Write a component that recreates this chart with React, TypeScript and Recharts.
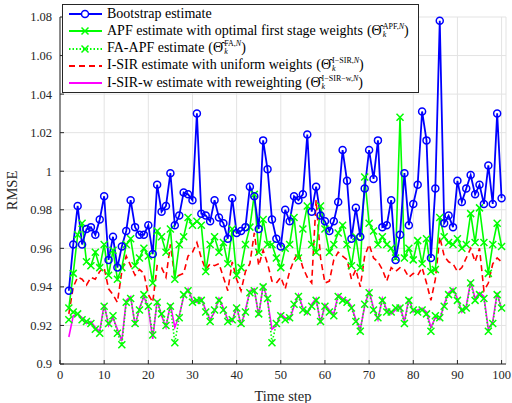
import React from "react";
import { LineChart, Line, XAxis, YAxis, CartesianGrid } from "recharts";

// time steps 2..100
const timeSteps = [
  2, 3, 4, 5, 6, 7, 8, 9, 10, 11, 12, 13, 14, 15, 16, 17, 18, 19, 20, 21,
  22, 23, 24, 25, 26, 27, 28, 29, 30, 31, 32, 33, 34, 35, 36, 37, 38, 39, 40, 41,
  42, 43, 44, 45, 46, 47, 48, 49, 50, 51, 52, 53, 54, 55, 56, 57, 58, 59, 60, 61,
  62, 63, 64, 65, 66, 67, 68, 69, 70, 71, 72, 73, 74, 75, 76, 77, 78, 79, 80, 81,
  82, 83, 84, 85, 86, 87, 88, 89, 90, 91, 92, 93, 94, 95, 96, 97, 98, 99, 100,
];

const bootstrap = [
  0.938, 0.962, 0.982, 0.962, 0.970, 0.971, 0.967, 0.975, 0.987, 0.954, 0.966, 0.950, 0.961, 0.969, 0.985, 0.971, 0.967, 0.967, 0.972, 0.957,
  0.993, 0.979, 0.982, 0.999, 0.972, 0.977, 0.989, 0.988, 0.985, 1.030, 0.978, 0.977, 0.974, 0.985, 0.976, 0.973, 0.965, 0.986, 0.968, 0.969,
  0.971, 0.992, 0.987, 0.970, 1.016, 1.001, 0.975, 0.965, 0.961, 0.980, 0.974, 0.987, 0.985, 0.988, 1.019, 0.979, 0.992, 0.977, 0.974, 0.969,
  0.974, 0.984, 1.011, 0.995, 0.965, 0.981, 0.966, 0.991, 1.011, 0.996, 1.016, 0.971, 0.972, 0.985, 0.954, 0.967, 0.999, 0.972, 0.983, 0.993,
  1.031, 1.016, 0.955, 0.991, 1.078, 0.973, 0.977, 0.971, 0.995, 0.984, 0.991, 0.998, 0.988, 0.993, 0.983, 1.003, 0.983, 1.030, 0.986,
];

const apf = [
  0.929, 0.947, 0.967, 0.973, 0.953, 0.951, 0.958, 0.950, 0.962, 0.946, 0.959, 0.944, 0.950, 0.962, 0.965, 0.951, 0.955, 0.960, 0.956, 0.942,
  0.969, 0.966, 0.958, 0.970, 0.944, 0.962, 0.966, 0.976, 0.972, 0.974, 0.972, 0.948, 0.962, 0.966, 0.958, 0.963, 0.952, 0.970, 0.946, 0.950,
  0.962, 0.971, 0.988, 0.958, 0.975, 0.962, 0.962, 0.955, 0.950, 0.960, 0.962, 0.976, 0.955, 0.970, 0.982, 0.962, 0.958, 0.982, 0.970, 0.958,
  0.962, 0.968, 0.972, 0.962, 0.951, 0.966, 0.950, 0.997, 0.973, 0.969, 0.962, 0.966, 0.962, 0.960, 0.955, 1.028, 0.955, 0.960, 0.954, 0.964,
  0.952, 0.965, 0.948, 0.949, 0.976, 0.966, 0.963, 0.962, 0.965, 0.960, 0.962, 0.978, 0.963, 0.981, 0.963, 0.947, 0.962, 0.973, 0.961,
];

const faApf = [
  0.923, 0.927, 0.926, 0.923, 0.922, 0.921, 0.918, 0.916, 0.930, 0.921, 0.925, 0.916, 0.910, 0.932, 0.934, 0.921, 0.928, 0.936, 0.930, 0.915,
  0.932, 0.926, 0.920, 0.930, 0.911, 0.924, 0.936, 0.938, 0.932, 0.933, 0.933, 0.927, 0.922, 0.928, 0.933, 0.928, 0.922, 0.923, 0.929, 0.921,
  0.927, 0.937, 0.938, 0.926, 0.940, 0.934, 0.911, 0.921, 0.925, 0.923, 0.924, 0.931, 0.935, 0.928, 0.927, 0.930, 0.933, 0.922, 0.930, 0.927,
  0.925, 0.935, 0.933, 0.932, 0.929, 0.922, 0.917, 0.931, 0.937, 0.928, 0.924, 0.933, 0.927, 0.927, 0.929, 0.929, 0.921, 0.933, 0.928, 0.927,
  0.928, 0.926, 0.917, 0.925, 0.924, 0.930, 0.936, 0.938, 0.933, 0.928, 0.929, 0.942, 0.933, 0.936, 0.934, 0.917, 0.921, 0.936, 0.929,
];

const isir = [
  0.926, 0.940, 0.945, 0.944, 0.941, 0.945, 0.944, 0.948, 0.950, 0.939, 0.936, 0.932, 0.948, 0.956, 0.951, 0.946, 0.949, 0.947, 0.936, 0.932,
  0.951, 0.950, 0.945, 0.962, 0.945, 0.946, 0.947, 0.956, 0.958, 0.963, 0.955, 0.949, 0.952, 0.951, 0.952, 0.945, 0.938, 0.953, 0.944, 0.938,
  0.948, 0.952, 0.968, 0.951, 0.959, 0.952, 0.943, 0.942, 0.945, 0.939, 0.948, 0.954, 0.958, 0.950, 0.945, 0.942, 0.985, 0.955, 0.942, 0.943,
  0.954, 0.958, 0.956, 0.954, 0.944, 0.949, 0.940, 0.956, 0.962, 0.955, 0.953, 0.949, 0.943, 0.950, 0.948, 0.950, 0.949, 0.945, 0.947, 0.946,
  0.950, 0.942, 0.933, 0.944, 0.966, 0.956, 0.953, 0.952, 0.948, 0.950, 0.955, 0.960, 0.953, 0.960, 0.938, 0.942, 0.952, 0.955, 0.953,
];

const isirW = [
  0.914, 0.925, 0.926, 0.924, 0.921, 0.922, 0.919, 0.917, 0.931, 0.920, 0.924, 0.918, 0.912, 0.933, 0.935, 0.920, 0.929, 0.935, 0.929, 0.913,
  0.933, 0.925, 0.919, 0.931, 0.919, 0.925, 0.935, 0.939, 0.933, 0.932, 0.934, 0.928, 0.923, 0.927, 0.934, 0.929, 0.923, 0.922, 0.930, 0.920,
  0.928, 0.938, 0.939, 0.925, 0.941, 0.933, 0.918, 0.920, 0.926, 0.924, 0.923, 0.930, 0.936, 0.929, 0.926, 0.931, 0.934, 0.921, 0.931, 0.928,
  0.926, 0.936, 0.934, 0.933, 0.930, 0.923, 0.918, 0.930, 0.938, 0.929, 0.923, 0.934, 0.928, 0.926, 0.928, 0.930, 0.922, 0.934, 0.927, 0.928,
  0.929, 0.927, 0.919, 0.924, 0.923, 0.931, 0.937, 0.939, 0.934, 0.927, 0.930, 0.943, 0.934, 0.937, 0.935, 0.918, 0.922, 0.937, 0.928,
];

const xTicks = [0, 10, 20, 30, 40, 50, 60, 70, 80, 90, 100];
const yTicks = [0.9, 0.92, 0.94, 0.96, 0.98, 1, 1.02, 1.04, 1.06, 1.08];

const data = timeSteps.map((t, i) => ({
  t,
  boot: bootstrap[i],
  apf: apf[i],
  fa: faApf[i],
  isir: isir[i],
  isirW: isirW[i],
}));

const FONT = "'Liberation Serif', 'Times New Roman', serif";
const GREEN = "#00ff00";

// MATLAB style 'x' marker
const XMark = (props: any) => {
  const { cx, cy, index } = props;
  if (cx == null || cy == null) return <g key={index} />;
  const s = 3.5;
  return (
    <path
      key={index}
      d={`M${cx - s},${cy - s}L${cx + s},${cy + s}M${cx - s},${cy + s}L${cx + s},${cy - s}`}
      stroke={GREEN}
      strokeWidth={1.5}
      fill="none"
    />
  );
};

// (Θ̂_k^{sup}) notation
const Est = ({ sup }: { sup: React.ReactNode }) => (
  <span style={{ display: "inline-flex", alignItems: "center", marginLeft: 4 }}>
    <span>(</span>
    <span>Θ̂</span>
    <span
      style={{
        display: "inline-flex",
        flexDirection: "column",
        fontSize: 8,
        lineHeight: "8px",
        marginLeft: 1,
      }}
    >
      <span>{sup}</span>
      <span style={{ fontStyle: "italic" }}>k</span>
    </span>
    <span>)</span>
  </span>
);

const legendRows = [
  { label: "Bootstrap estimate", color: "#0000ff", dash: undefined, marker: "o", sup: null },
  {
    label: "APF estimate with optimal first stage weights",
    color: GREEN,
    dash: undefined,
    marker: "x",
    sup: <>APF,<i>N</i></>,
  },
  { label: "FA-APF estimate", color: GREEN, dash: "1.5 2", marker: "x", sup: <>FA,<i>N</i></> },
  {
    label: "I-SIR estimate with uniform weights",
    color: "#ff0000",
    dash: "6 4",
    marker: null,
    sup: <>I−SIR,<i>N</i></>,
  },
  {
    label: "I-SIR-w estimate with reweighting",
    color: "#ff00ff",
    dash: undefined,
    marker: null,
    sup: <>I−SIR−w,<i>N</i></>,
  },
];

const LegendBox = () => (
  <div
    style={{
      position: "absolute",
      left: 62,
      top: 4,
      width: 355,
      height: 87,
      background: "#fff",
      border: "1px solid #262626",
      fontFamily: FONT,
      fontSize: 14,
      color: "#000",
    }}
  >
    {legendRows.map((r, i) => (
      <div
        key={r.label}
        style={{
          position: "absolute",
          left: 0,
          top: i * 17.3,
          height: 17,
          display: "flex",
          alignItems: "center",
          whiteSpace: "nowrap",
        }}
      >
        <svg width={40} height={17} style={{ marginLeft: 4 }}>
          <line x1={2} y1={9} x2={35} y2={9} stroke={r.color} strokeWidth={2} strokeDasharray={r.dash} />
          {r.marker === "o" && <circle cx={18} cy={9} r={3.5} stroke={r.color} strokeWidth={1.5} fill="#fff" />}
          {r.marker === "x" && (
            <path d="M14.5,5.5L21.5,12.5M14.5,12.5L21.5,5.5" stroke={r.color} strokeWidth={1.5} />
          )}
        </svg>
        <span>{r.label}</span>
        {r.sup && <Est sup={r.sup} />}
      </div>
    ))}
  </div>
);

export default function App() {
  const tickStyle = { fontSize: 12.5, fill: "#262626", fontFamily: FONT };
  return (
    <div style={{ position: "absolute", left: 0, top: 0, width: 512, height: 403, background: "#fff" }}>
      <LineChart width={512} height={403} data={data} margin={{ top: 17, right: 6, bottom: 0, left: 0 }}>
        <CartesianGrid stroke="#e3e3e3" strokeWidth={1} />
        <XAxis
          dataKey="t"
          type="number"
          domain={[0, 101]}
          ticks={xTicks}
          interval={0}
          height={39}
          tick={tickStyle}
          tickSize={-4}
          tickMargin={10}
          stroke="#262626"
          label={{ value: "Time step", position: "insideBottom", offset: 2, style: { fontSize: 14.5, fill: "#262626", fontFamily: FONT } }}
        />
        <XAxis xAxisId="top" dataKey="t" type="number" domain={[0, 101]} orientation="top" height={0} tick={false} tickLine={false} stroke="#262626" />
        <YAxis
          type="number"
          domain={[0.9, 1.08]}
          ticks={yTicks}
          interval={0}
          width={60}
          tick={tickStyle}
          tickSize={-4}
          tickMargin={12}
          stroke="#262626"
          label={{ value: "RMSE", angle: -90, position: "insideLeft", offset: 12, style: { fontSize: 14.5, fill: "#262626", fontFamily: FONT, textAnchor: "middle" } }}
        />
        <YAxis yAxisId="right" type="number" domain={[0.9, 1.08]} orientation="right" width={0} tick={false} tickLine={false} stroke="#262626" />
        <Line dataKey="isirW" stroke="#ff00ff" strokeWidth={1.6} dot={false} isAnimationActive={false} />
        <Line dataKey="fa" stroke={GREEN} strokeWidth={1.6} strokeDasharray="1.5 2" dot={<XMark />} isAnimationActive={false} />
        <Line dataKey="isir" stroke="#ff0000" strokeWidth={1.6} strokeDasharray="6 4" dot={false} isAnimationActive={false} />
        <Line dataKey="apf" stroke={GREEN} strokeWidth={1.6} dot={<XMark />} isAnimationActive={false} />
        <Line
          dataKey="boot"
          stroke="#0000ff"
          strokeWidth={1.8}
          dot={{ r: 3.5, stroke: "#0000ff", strokeWidth: 1.5, fill: "none" }}
          isAnimationActive={false}
        />
      </LineChart>
      <LegendBox />
    </div>
  );
}
